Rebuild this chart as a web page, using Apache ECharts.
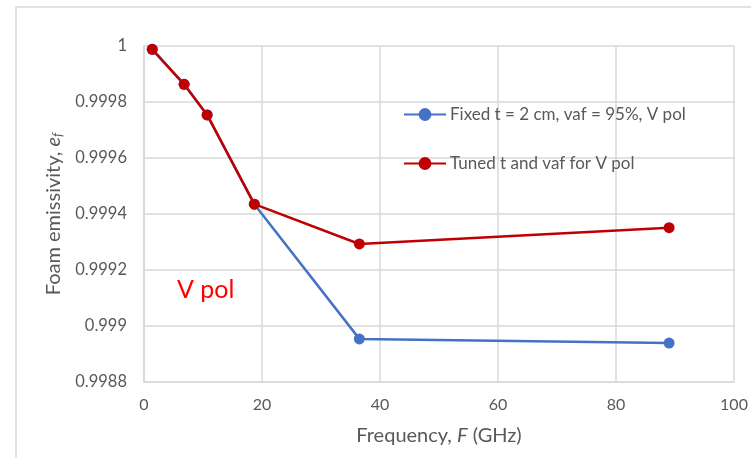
<!DOCTYPE html>
<html>
<head>
<meta charset="utf-8">
<script src="https://cdn.jsdelivr.net/npm/echarts@6/dist/echarts.min.js"></script>
<style>html,body{margin:0;padding:0;background:#fff;}#c{width:751px;height:458px;}</style>
</head>
<body>
<div id="c"></div>
<script>
const frequencies = [1.4, 6.8, 10.7, 18.7, 36.5, 89];
const fixedValues = [0.999988, 0.999863, 0.999754, 0.999435, 0.998954, 0.998939];
const tunedValues = [0.999988, 0.999863, 0.999754, 0.999435, 0.999293, 0.999351];
const seriesNames = ['Fixed t = 2 cm, vaf = 95%, V pol', 'Tuned t and vaf for V pol'];
const xTicks = [0, 20, 40, 60, 80, 100];
const yTicks = [0.9988, 0.999, 0.9992, 0.9994, 0.9996, 0.9998, 1];

const FONT = 'Lato';
const GRAY = '#595959';
const GRID = '#d9d9d9';
const chart = echarts.init(document.getElementById('c'), null, {renderer: 'canvas'});
const pairs = vals => frequencies.map((f, i) => [f, vals[i]]);

chart.setOption({
  animation: false,
  backgroundColor: '#fff',
  textStyle: {fontFamily: FONT},
  grid: {left: 144, right: 17, top: 46, bottom: 76, containLabel: false},
  graphic: [
    {type: 'rect', shape: {x: 16, y: 7, width: 800, height: 500},
     style: {fill: 'none', stroke: GRID, lineWidth: 1.5}, silent: true},
    {type: 'text', x: 177, y: 290,
     style: {text: 'V pol', fill: '#ff0000', font: '25px Lato', textVerticalAlign: 'middle'}}
  ],
  legend: {
    orient: 'vertical', left: 403, top: 106, padding: 0,
    itemWidth: 42, itemHeight: 16, itemGap: 32,
    textStyle: {color: GRAY, fontSize: 17, fontFamily: FONT, padding: [0, 0, 0, -1]},
    data: seriesNames
  },
  xAxis: {
    type: 'value', min: xTicks[0], max: xTicks[xTicks.length - 1], interval: 20,
    name: 'Frequency, {i|F} (GHz)', nameLocation: 'middle', nameGap: 44,
    nameTextStyle: {color: GRAY, fontSize: 20, fontFamily: FONT,
      rich: {i: {fontStyle: 'italic', fontSize: 20, color: GRAY, fontFamily: FONT}}},
    axisLine: {show: true, lineStyle: {color: GRID, width: 1.5}},
    axisTick: {show: false},
    axisLabel: {color: GRAY, fontSize: 16, margin: 15, fontFamily: FONT},
    splitLine: {show: true, lineStyle: {color: GRID, width: 1.5}}
  },
  yAxis: {
    type: 'value', min: yTicks[0], max: yTicks[yTicks.length - 1], interval: 0.0002,
    name: 'Foam emissivity, {i|e}{sub|f}', nameLocation: 'middle', nameGap: 76,
    nameTextStyle: {color: GRAY, fontSize: 20, fontFamily: FONT,
      rich: {
        i: {fontStyle: 'italic', fontSize: 20, color: GRAY, fontFamily: FONT},
        sub: {fontStyle: 'italic', fontSize: 13, color: GRAY, fontFamily: FONT, verticalAlign: 'bottom', padding: [9, 0, 0, 0]}
      }},
    axisLine: {show: true, lineStyle: {color: GRID, width: 1.5}},
    axisTick: {show: false},
    axisLabel: {color: GRAY, fontSize: 16.5, margin: 17, fontFamily: FONT,
      formatter: v => String(+v.toFixed(4))},
    splitLine: {show: true, lineStyle: {color: GRID, width: 1.5}}
  },
  series: [
    {name: seriesNames[0], type: 'line', data: pairs(fixedValues),
     symbol: 'circle', symbolSize: 11, color: '#4472c4',
     lineStyle: {width: 2.5, color: '#4472c4'}, itemStyle: {color: '#4472c4'}},
    {name: seriesNames[1], type: 'line', data: pairs(tunedValues),
     symbol: 'circle', symbolSize: 11, color: '#c00000',
     lineStyle: {width: 2.5, color: '#c00000'}, itemStyle: {color: '#c00000'}}
  ]
});
</script>
</body>
</html>
